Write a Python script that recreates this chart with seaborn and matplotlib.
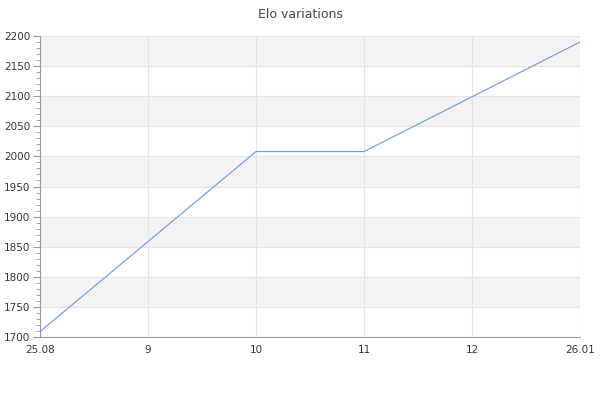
import matplotlib
matplotlib.use("Agg")
import matplotlib.pyplot as plt
import seaborn as sns
import numpy as np
import pandas as pd
from matplotlib.ticker import MultipleLocator

# data
tick_labels = ["25.08", "9", "10", "11", "12", "26.01"]
point_pos = [0, 2, 3, 5]
elo = [1709, 2008, 2008, 2190]

df = pd.DataFrame({"pos": point_pos, "elo": elo})

sns.set_style("white")
plt.rcParams['font.family'] = ['DejaVu Sans']

fig = plt.figure(figsize=(6, 4), dpi=100)
ax = fig.add_axes([40 / 600, 1 - 337 / 400, 540 / 600, 301 / 400])

# alternating bands
for lo in range(1750, 2200, 100):
    ax.axhspan(lo, lo + 50, color="#f3f3f3", zorder=0, lw=0)

sns.lineplot(data=df, x="pos", y="elo", ax=ax, color="#6a96ec", linewidth=0.8, zorder=3)

ax.set_xlim(0, len(tick_labels) - 1)
ax.set_ylim(1700, 2200)
ax.set_xticks(np.arange(len(tick_labels)))
ax.set_xticklabels(tick_labels)
ax.yaxis.set_major_locator(MultipleLocator(50))
ax.yaxis.set_minor_locator(MultipleLocator(10))

ax.grid(True, which="major", color="#e4e4e4", linewidth=0.8, zorder=1)
ax.set_axisbelow(True)

for s in ["top", "right"]:
    ax.spines[s].set_visible(False)
for s in ["left", "bottom"]:
    ax.spines[s].set_color("#999999")
    ax.spines[s].set_linewidth(0.8)

ax.tick_params(axis="y", which="major", length=5, width=0.8, color="#999999",
               labelsize=7.5, labelcolor="#333333", left=True, pad=2)
ax.tick_params(axis="y", which="minor", length=3, width=0.6, color="#999999", left=True)
ax.tick_params(axis="x", which="both", length=0, labelsize=7.5, labelcolor="#333333", pad=6)

ax.set_xlabel("")
ax.set_ylabel("")
fig.suptitle("Elo variations", y=0.98, fontsize=9, color="#444444")

fig.savefig("out.png", dpi=100)
